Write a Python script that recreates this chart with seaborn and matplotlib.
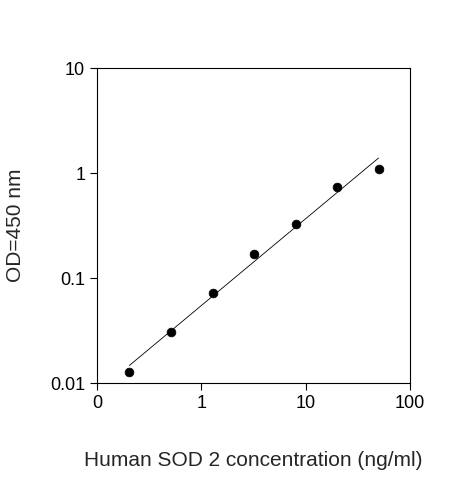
import numpy as np
import matplotlib
matplotlib.use("Agg")
import matplotlib.pyplot as plt
import seaborn as sns

conc = [0.2048, 0.512, 1.28, 3.2, 8.0, 20.0, 50.0]
od = [0.0127, 0.0306, 0.072, 0.169, 0.327, 0.736, 1.09]
xticks = [0.1, 1, 10, 100]
xticklabels = ["0", "1", "10", "100"]
yticks = [0.01, 0.1, 1, 10]
yticklabels = ["0.01", "0.1", "1", "10"]

sns.set_style("ticks")
plt.rcParams['font.family'] = ['Liberation Sans', 'DejaVu Sans']

fig = plt.figure(figsize=(4.63, 4.8), dpi=100)
ax = fig.add_axes([0.2095, 0.202, 0.676, 0.656])

lx = np.log10(conc); ly = np.log10(od)
k, b = np.polyfit(lx, ly, 1)
fx = np.array([min(conc), max(conc)])
fy = 10 ** (k * np.log10(fx) + b)
sns.lineplot(x=fx, y=fy, ax=ax, color="black", linewidth=0.6)
sns.scatterplot(x=conc, y=od, ax=ax, color="black", s=40, edgecolor="black", zorder=3)

ax.set_xscale("log"); ax.set_yscale("log")
ax.set_xlim(0.1, 100); ax.set_ylim(0.01, 10)
ax.set_xticks(xticks); ax.set_xticklabels(xticklabels, fontsize=13)
ax.set_yticks(yticks); ax.set_yticklabels(yticklabels, fontsize=13)
ax.minorticks_off()
for s in ax.spines.values():
    s.set_visible(True); s.set_linewidth(0.8); s.set_color("black")
ax.tick_params(direction="out", length=5, width=0.8, colors="black")
ax.set_xlabel("Human SOD 2 concentration (ng/ml)", fontsize=15, labelpad=28)
ax.set_ylabel("OD=450 nm", fontsize=15, labelpad=18)
fig.savefig("out.png", dpi=100)
